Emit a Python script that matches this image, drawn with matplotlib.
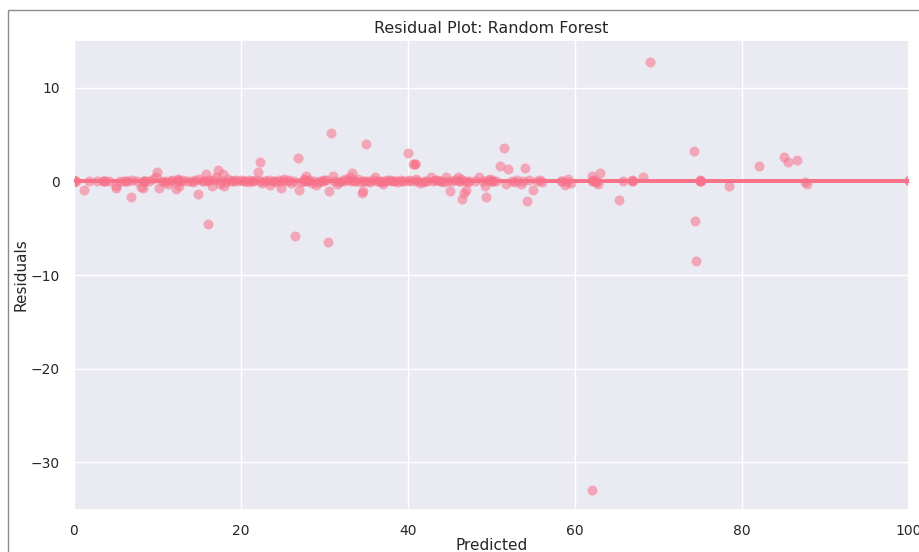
import matplotlib
matplotlib.use("Agg")
import matplotlib.pyplot as plt
import seaborn as sns
from matplotlib.patches import Rectangle

# predicted values and their residuals
predicted = [
    0, 0, 0, 0.2, 1.2, 2.8, 3.5, 3.7, 5.0, 5.0, 5.5, 6.2, 6.5, 6.8, 7.5, 8.0, 8.3, 8.4, 8.5,
    9.5, 9.8, 10.0, 10.2, 10.5, 11.0, 11.3, 11.8, 12.2, 12.5, 12.6, 12.7, 13.0, 14.0, 14.5,
    14.8, 15.0, 15.3, 15.8, 16.0, 16.2, 16.5, 17.0, 17.3, 17.5, 17.8, 18.0, 18.5, 19.0, 19.5,
    20.0, 20.5, 21.0, 21.5, 22.0, 22.3, 22.5, 23.0, 23.5, 24.0, 24.5, 24.8, 25.2, 25.5, 26.0,
    26.5, 26.8, 27.0, 27.5, 27.8, 28.0, 28.5, 29.0, 29.5, 30.0, 30.4, 30.5, 30.8, 31.0, 31.5,
    32.0, 32.5, 33.0, 33.3, 33.7, 34.0, 34.5, 34.6, 35.0, 35.2, 35.5, 36.0, 36.5, 37.0, 37.5,
    38.0, 38.5, 39.0, 39.5, 40.0, 40.3, 40.6, 40.8, 40.8, 41.0, 41.5, 42.0, 42.8, 43.0, 43.5,
    44.0, 44.5, 45.0, 45.3, 46.0, 46.3, 46.5, 46.7, 46.8, 47.0, 47.3, 48.5, 49.0, 49.2, 49.4,
    49.8, 50.0, 50.2, 51.0, 51.5, 51.8, 52.0, 52.5, 53.0, 53.5, 54.0, 54.2, 54.5, 55.0, 55.5,
    56.0, 58.3, 58.8, 59.2, 59.5, 62.0, 62.0, 62.2, 62.5, 62.8, 63.0, 65.3, 65.8, 66.8, 66.8,
    68.2, 69.0, 74.3, 74.4, 74.5, 75.0, 75.0, 78.5, 82.0, 85.0, 85.5, 86.6, 87.8, 100.0, 100.0,
    # dense band of near-zero residuals
    1.8, 4.2, 6.0, 7.0, 9.0, 10.8, 11.6, 12.4, 13.5, 14.2, 15.6, 16.8, 17.6, 18.2, 18.8,
    19.3, 20.2, 20.8, 21.3, 21.8, 22.7, 23.3, 23.8, 24.3, 25.0, 25.8, 26.3, 27.2, 27.6, 28.2,
    28.8, 29.3, 29.8, 30.2, 31.2, 31.8, 32.3, 32.8, 33.5, 34.2, 34.8, 35.8, 36.3, 36.8, 37.3,
    37.8, 38.3, 38.8, 39.3, 40.1, 41.2, 41.8, 42.3, 43.2, 43.8, 44.3, 44.8, 45.6, 46.2, 47.2,
    48.0, 49.6, 50.5, 52.8, 53.8, 55.8, 58.5, 59.0, 62.3, 62.6, 66.9, 75.0, 87.6,
    3.6, 8.4, 12.6, 16.0, 22.3, 27.8, 33.2, 34.6, 36.9, 40.8, 46.1, 50.1, 62.1, 75.1,
]
residuals = [
    0, 0.1, -0.1, 0, -0.9, 0, 0, 0, -0.7, -0.5, 0, 0, 0, -1.7, 0, -0.6, -0.7, 0, 0,
    0.3, 0.5, 1.0, -0.7, 0, 0, -0.3, 0.2, -0.8, 0.3, -0.5, 0, 0.2, 0, 0.2,
    -1.3, 0.3, 0, 0.8, -4.6, 0.2, -0.5, 0.5, 1.2, -0.3, 0.8, -0.5, 0.3, 0, 0,
    0.2, 0, 0.2, 0, 1.0, 2.1, -0.2, 0, -0.4, 0, 0.2, -0.7, 0.3, 0, -0.2,
    -5.8, 2.5, -0.9, 0.3, 0.6, 0, -0.2, -0.4, 0, 0.2, -6.5, -1.0, 5.2, 0.6, -0.3,
    0, 0.3, 0.5, 0.9, 0, 0.3, -1.2, -1.0, 4.0, 0, -0.1, 0.5, 0, -0.3, 0.2,
    0, 0, 0.1, 0, 3.0, 0, 1.9, 1.9, 1.9, 0.3, -0.2, 0, 0.5, 0, 0.2,
    0, 0.5, -1.0, 0, 0.5, 0.3, -1.9, -1.2, 0, -0.9, 0, 0.5, 0, -0.5, -1.7,
    0.3, 0, 0, 1.6, 3.6, -0.3, 1.3, 0, 0.2, -0.3, 1.4, -2.1, 0.2, -0.9, 0,
    -0.1, 0, -0.4, 0.3, -0.2, 0.6, -33.0, 0.2, -0.1, -0.3, 0.9, -2.0, 0, 0, 0.1,
    0.5, 12.8, 3.2, -4.2, -8.5, 0, 0.1, -0.5, 1.6, 2.6, 2.1, 2.3, -0.3, 0.2, 0,
    0, 0, 0, 0.1, 0, -0.1, 0, 0.1, 0, -0.1, 0, 0.1, 0, -0.1, 0,
    0.1, 0, -0.1, 0, 0.1, 0, 0.1, 0, -0.1, 0, 0.1, 0, -0.1, 0, 0.1,
    0, -0.1, 0, 0.1, 0, -0.1, 0, 0.1, 0, -0.1, 0, 0.1, 0, -0.1, 0,
    0.1, 0, -0.1, 0, 0.1, 0, -0.1, 0, 0.1, 0, -0.1, 0, 0.1, 0, -0.1,
    0, 0.1, 0, -0.1, 0, 0.1, 0, -0.1, 0, 0, 0, 0, -0.1,
    0, 0, 0, 0, 0, 0, 0, 0, 0, 0, 0, 0, 0, 0,
]

color = "#f77189"

sns.set_theme(style="darkgrid")
plt.rcParams['font.family'] = ['DejaVu Sans']

fig = plt.figure(figsize=(9.2, 5.52), dpi=100)
ax = fig.add_axes([0.0804, 0.0761, 0.9076, 0.8514])

ax.scatter(predicted, residuals, s=52, color=color, alpha=0.55, linewidths=0)
ax.axhline(0, color=color, lw=2.8, zorder=3)

ax.set_xlim(0, 100)
ax.set_ylim(-35.1, 15.1)
ax.set_xticks([0, 20, 40, 60, 80, 100])
ax.set_yticks([-30, -20, -10, 0, 10])
ax.tick_params(labelsize=10, pad=4)
ax.set_xlabel("Predicted", fontsize=11, labelpad=0)
ax.set_ylabel("Residuals", fontsize=11, labelpad=2)
ax.set_title("Residual Plot: Random Forest", fontsize=11.5, pad=5)

# border of the original figure (cropped on the right and bottom)
fig.patches.append(Rectangle((8 / 920, -0.5), 2.0, 1.5 - 10 / 552,
                             transform=fig.transFigure, fill=False,
                             edgecolor="#8a8a8a", lw=1.0))

fig.savefig("out.png", dpi=100)
